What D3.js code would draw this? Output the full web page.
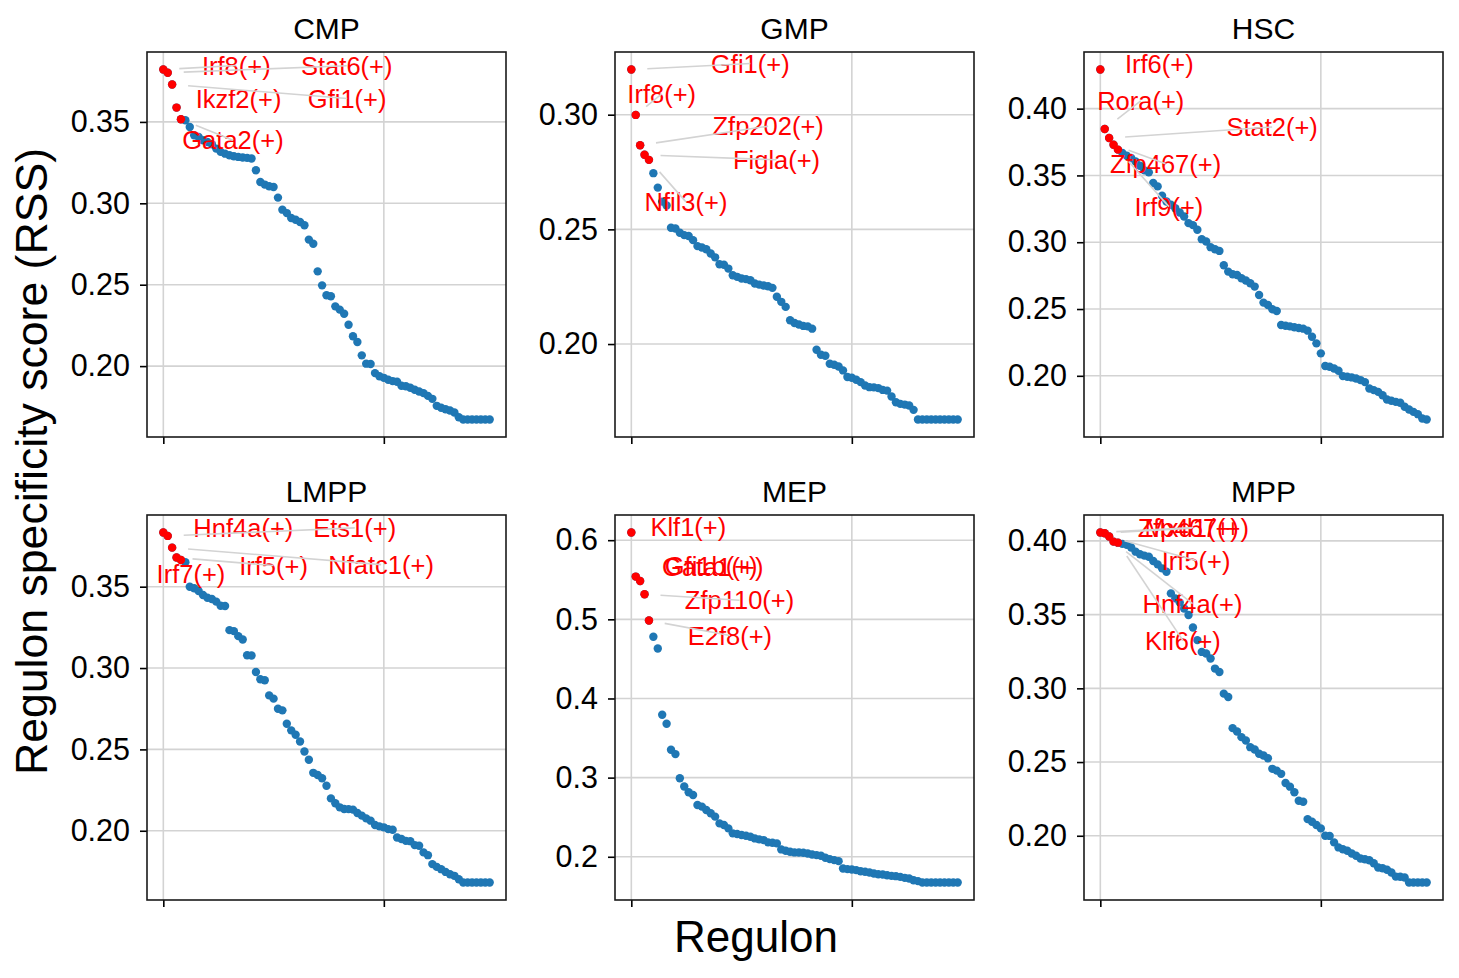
<!DOCTYPE html>
<html>
<head>
<meta charset="utf-8">
<script src="https://cdn.jsdelivr.net/npm/d3@7"></script>
<style>
body { margin: 0; background: #fff; }
svg { display: block; font-family: "Liberation Sans", Arial, sans-serif; }
</style>
</head>
<body>
<svg id="chart"></svg>
<script>
// cell types (one panel each)
var cellTypes = ["CMP", "GMP", "HSC", "LMPP", "MEP", "MPP"];

// RSS values, sorted from high to low, 75 regulons per cell type
var rssCMP = [
  0.3822, 0.3802, 0.3730, 0.3588, 0.3516, 0.3510, 0.3469, 0.3418, 0.3407, 0.3387,
  0.3377, 0.3363, 0.3336, 0.3316, 0.3305, 0.3295, 0.3289, 0.3285, 0.3281, 0.3279,
  0.3275, 0.3203, 0.3131, 0.3115, 0.3105, 0.3100, 0.3035, 0.2961, 0.2940, 0.2910,
  0.2899, 0.2885, 0.2865, 0.2777, 0.2752, 0.2582, 0.2496, 0.2435, 0.2429, 0.2367,
  0.2347, 0.2322, 0.2254, 0.2183, 0.2148, 0.2066, 0.2015, 0.2013, 0.1957, 0.1938,
  0.1928, 0.1916, 0.1908, 0.1904, 0.1879, 0.1876, 0.1867, 0.1855, 0.1844, 0.1834,
  0.1817, 0.1799, 0.1756, 0.1744, 0.1735, 0.1727, 0.1715, 0.1686, 0.1672, 0.1672,
  0.1672, 0.1672, 0.1672, 0.1672, 0.1672
];
var rssGMP = [
  0.3197, 0.2999, 0.2867, 0.2825, 0.2803, 0.2745, 0.2682, 0.2621, 0.2604, 0.2507,
  0.2504, 0.2485, 0.2475, 0.2471, 0.2453, 0.2427, 0.2421, 0.2413, 0.2395, 0.2378,
  0.2348, 0.2346, 0.2329, 0.2300, 0.2293, 0.2286, 0.2283, 0.2278, 0.2264, 0.2259,
  0.2255, 0.2252, 0.2245, 0.2206, 0.2184, 0.2162, 0.2104, 0.2092, 0.2085, 0.2079,
  0.2077, 0.2067, 0.1975, 0.1953, 0.1949, 0.1914, 0.1910, 0.1902, 0.1885, 0.1856,
  0.1853, 0.1844, 0.1834, 0.1819, 0.1812, 0.1811, 0.1808, 0.1800, 0.1797, 0.1771,
  0.1746, 0.1739, 0.1736, 0.1732, 0.1713, 0.1671, 0.1671, 0.1671, 0.1671, 0.1671,
  0.1671, 0.1671, 0.1671, 0.1671, 0.1671
];
var rssHSC = [
  0.4293, 0.3848, 0.3780, 0.3730, 0.3693, 0.3668, 0.3648, 0.3630, 0.3605, 0.3573,
  0.3538, 0.3523, 0.3443, 0.3418, 0.3348, 0.3305, 0.3280, 0.3255, 0.3223, 0.3193,
  0.3143, 0.3128, 0.3093, 0.3023, 0.3005, 0.2963, 0.2948, 0.2935, 0.2828, 0.2780,
  0.2760, 0.2755, 0.2730, 0.2713, 0.2693, 0.2668, 0.2605, 0.2548, 0.2530, 0.2498,
  0.2485, 0.2380, 0.2375, 0.2370, 0.2363, 0.2358, 0.2353, 0.2338, 0.2293, 0.2243,
  0.2168, 0.2073, 0.2068, 0.2055, 0.2038, 0.1998, 0.1993, 0.1988, 0.1980, 0.1968,
  0.1953, 0.1905, 0.1893, 0.1880, 0.1855, 0.1823, 0.1813, 0.1805, 0.1798, 0.1768,
  0.1748, 0.1730, 0.1713, 0.1680, 0.1673
];
var rssLMPP = [
  0.3833, 0.3812, 0.3740, 0.3679, 0.3664, 0.3650, 0.3500, 0.3490, 0.3473, 0.3449,
  0.3432, 0.3424, 0.3408, 0.3383, 0.3381, 0.3233, 0.3227, 0.3196, 0.3175, 0.3079,
  0.3077, 0.2976, 0.2931, 0.2925, 0.2832, 0.2812, 0.2750, 0.2740, 0.2658, 0.2617,
  0.2590, 0.2549, 0.2487, 0.2436, 0.2356, 0.2343, 0.2323, 0.2277, 0.2199, 0.2169,
  0.2144, 0.2134, 0.2133, 0.2130, 0.2109, 0.2093, 0.2076, 0.2062, 0.2035, 0.2027,
  0.2021, 0.2010, 0.2006, 0.1959, 0.1949, 0.1938, 0.1936, 0.1912, 0.1908, 0.1867,
  0.1850, 0.1795, 0.1778, 0.1764, 0.1747, 0.1733, 0.1723, 0.1702, 0.1682, 0.1682,
  0.1682, 0.1682, 0.1682, 0.1682, 0.1682
];
var rssMEP = [
  0.6097, 0.5540, 0.5485, 0.5316, 0.4986, 0.4780, 0.4631, 0.3795, 0.3681, 0.3352,
  0.3297, 0.2993, 0.2887, 0.2815, 0.2781, 0.2655, 0.2634, 0.2591, 0.2549, 0.2507,
  0.2422, 0.2401, 0.2359, 0.2296, 0.2287, 0.2275, 0.2266, 0.2253, 0.2232, 0.2220,
  0.2211, 0.2182, 0.2177, 0.2169, 0.2093, 0.2076, 0.2063, 0.2055, 0.2054, 0.2050,
  0.2042, 0.2029, 0.2021, 0.2013, 0.1987, 0.1970, 0.1958, 0.1945, 0.1852, 0.1844,
  0.1840, 0.1831, 0.1818, 0.1810, 0.1801, 0.1788, 0.1780, 0.1776, 0.1767, 0.1759,
  0.1755, 0.1746, 0.1734, 0.1725, 0.1704, 0.1692, 0.1675, 0.1675, 0.1675, 0.1675,
  0.1675, 0.1675, 0.1675, 0.1675, 0.1675
];
var rssMPP = [
  0.4057, 0.4052, 0.4030, 0.3995, 0.3988, 0.3980, 0.3973, 0.3955, 0.3927, 0.3909,
  0.3900, 0.3893, 0.3864, 0.3841, 0.3814, 0.3791, 0.3644, 0.3610, 0.3583, 0.3542,
  0.3497, 0.3413, 0.3327, 0.3247, 0.3236, 0.3202, 0.3134, 0.3111, 0.2964, 0.2941,
  0.2730, 0.2707, 0.2669, 0.2646, 0.2601, 0.2585, 0.2556, 0.2544, 0.2526, 0.2454,
  0.2442, 0.2420, 0.2358, 0.2333, 0.2295, 0.2238, 0.2231, 0.2113, 0.2095, 0.2073,
  0.2050, 0.2000, 0.1999, 0.1955, 0.1921, 0.1909, 0.1898, 0.1880, 0.1864, 0.1846,
  0.1841, 0.1834, 0.1814, 0.1785, 0.1780, 0.1769, 0.1751, 0.1723, 0.1722, 0.1717,
  0.1683, 0.1683, 0.1683, 0.1683, 0.1683
];

// names of the top 5 regulons (in rank order) per cell type
var topCMP  = ["Irf8(+)", "Stat6(+)", "Gfi1(+)", "Ikzf2(+)", "Gata2(+)"];
var topGMP  = ["Gfi1(+)", "Irf8(+)", "Zfp202(+)", "Figla(+)", "Nfil3(+)"];
var topHSC  = ["Irf6(+)", "Rora(+)", "Stat2(+)", "Zfp467(+)", "Irf9(+)"];
var topLMPP = ["Hnf4a(+)", "Ets1(+)", "Nfatc1(+)", "Irf5(+)", "Irf7(+)"];
var topMEP  = ["Klf1(+)", "Gata1(+)", "Gfi1b(+)", "Zfp110(+)", "E2f8(+)"];
var topMPP  = ["Zfp467(+)", "Mxd1(+)", "Irf5(+)", "Hnf4a(+)", "Klf6(+)"];

// tick labels
var xTicks = [0, 50];
var yTicksCMP  = ["0.20", "0.25", "0.30", "0.35"];
var yTicksGMP  = ["0.20", "0.25", "0.30"];
var yTicksHSC  = ["0.20", "0.25", "0.30", "0.35", "0.40"];
var yTicksLMPP = ["0.20", "0.25", "0.30", "0.35"];
var yTicksMEP  = ["0.2", "0.3", "0.4", "0.5", "0.6"];
var yTicksMPP  = ["0.20", "0.25", "0.30", "0.35", "0.40"];

// label placement: pixel offset of label centre from its point, and whether a connector is drawn
var labelLayout = [
  [[73, -4, 1], [179, -7, 1], [175, 14, 1], [62, -9, 0], [52, 21, 1]],
  [[119, -6, 1], [26, -21, 1], [128, -19, 1], [132, 5, 1], [37, 42, 1]],
  [[59, -6, 0], [36, -28, 1], [163, -11, 1], [52, 19, 1], [51, 57, 1]],
  [[80, -5, 0], [187, -8, 1], [209, 17, 1], [97, 8, 1], [10, 14, 0]],
  [[57, -6, 0], [77, -10, 0], [71, -15, 0], [95, 6, 1], [81, 15, 1]],
  [[93, -5, 1], [87, -5, 1], [87, 24, 1], [79, 62, 1], [65, 98, 1]]
];

var values = [rssCMP, rssGMP, rssHSC, rssLMPP, rssMEP, rssMPP];
var tops = [topCMP, topGMP, topHSC, topLMPP, topMEP, topMPP];
var yTicks = [yTicksCMP, yTicksGMP, yTicksHSC, yTicksLMPP, yTicksMEP, yTicksMPP];

var W = 1459, H = 978;
var colLeft = [147, 615, 1084], rowTop = [52, 515];
var pw = 359, ph = 385;
var blue = "#1f77b4", red = "#ff0000", grey = "#d3d3d3";

var svg = d3.select("#chart").attr("width", W).attr("height", H);

cellTypes.forEach(function(name, k) {
  var left = colLeft[k % 3], top = rowTop[Math.floor(k / 3)];
  var vals = values[k];
  var n = vals.length;
  var ticks = yTicks[k];

  // matplotlib-style 5% margins
  var x = d3.scaleLinear().domain([-0.05 * (n - 1), 1.05 * (n - 1)]).range([left, left + pw]);
  var ext = d3.extent(vals), pad = (ext[1] - ext[0]) * 0.05;
  var y = d3.scaleLinear().domain([ext[0] - pad, ext[1] + pad]).range([top + ph, top]);

  var g = svg.append("g");

  // grid
  g.append("g").selectAll("line").data(xTicks).enter().append("line")
    .attr("x1", d => x(d)).attr("x2", d => x(d))
    .attr("y1", top).attr("y2", top + ph)
    .attr("stroke", grey).attr("stroke-width", 1.6);
  g.append("g").selectAll("line").data(ticks).enter().append("line")
    .attr("x1", left).attr("x2", left + pw)
    .attr("y1", d => y(+d)).attr("y2", d => y(+d))
    .attr("stroke", grey).attr("stroke-width", 1.6);

  // axes
  var xAxis = d3.axisBottom(x).tickValues(xTicks).tickFormat("").tickSize(7).tickSizeOuter(0);
  var yAxis = d3.axisLeft(y).tickValues(ticks.map(Number))
    .tickFormat((d, i) => ticks[i]).tickSize(7).tickSizeOuter(0).tickPadding(10);

  var gx = g.append("g").attr("transform", "translate(0," + (top + ph) + ")").call(xAxis);
  var gy = g.append("g").attr("transform", "translate(" + left + ",0)").call(yAxis);
  [gx, gy].forEach(function(a) {
    a.select(".domain").remove();
    a.selectAll(".tick line").attr("stroke", "#000").attr("stroke-width", 1.6);
  });
  gy.selectAll(".tick text")
    .attr("font-size", 30.5).attr("fill", "#000")
    .attr("font-family", "'Liberation Sans', Arial, sans-serif");

  // points
  g.append("g").selectAll("circle").data(vals).enter().append("circle")
    .attr("cx", (d, i) => x(i)).attr("cy", d => y(d)).attr("r", 4.2)
    .attr("fill", blue);
  g.append("g").selectAll("circle").data(vals.slice(0, tops[k].length)).enter().append("circle")
    .attr("cx", (d, i) => x(i)).attr("cy", d => y(d)).attr("r", 4.2)
    .attr("fill", red);

  // labels
  var lab = tops[k].map(function(t, i) {
    var px = x(i), py = y(vals[i]);
    var o = labelLayout[k][i];
    return { text: t, px: px, py: py, tx: px + o[0], ty: py + o[1], line: o[2] };
  });
  g.append("g").selectAll("text").data(lab).enter().append("text")
    .attr("x", d => d.tx).attr("y", d => d.ty).attr("dy", "0.36em")
    .attr("text-anchor", "middle").attr("font-size", 25.5).attr("fill", red)
    .text(d => d.text);
  g.append("g").selectAll("line").data(lab.filter(d => d.line)).enter().append("line")
    .attr("x1", function(d) {
      var dx = d.tx - d.px, dy = d.ty - d.py, L = Math.sqrt(dx * dx + dy * dy);
      return d.px + dx / L * Math.min(16, L * 0.4);
    })
    .attr("y1", function(d) {
      var dx = d.tx - d.px, dy = d.ty - d.py, L = Math.sqrt(dx * dx + dy * dy);
      return d.py + dy / L * Math.min(16, L * 0.4);
    })
    .attr("x2", d => d.tx).attr("y2", d => d.ty)
    .attr("stroke", grey).attr("stroke-width", 1.6);

  // frame
  g.append("rect").attr("x", left).attr("y", top).attr("width", pw).attr("height", ph)
    .attr("fill", "none").attr("stroke", "#1a1a1a").attr("stroke-width", 1.6);

  // title
  g.append("text").attr("x", left + pw / 2).attr("y", top - 13)
    .attr("text-anchor", "middle").attr("font-size", 30).attr("fill", "#000")
    .text(name);
});

// shared axis labels
svg.append("text").attr("x", 756).attr("y", 952)
  .attr("text-anchor", "middle").attr("font-size", 44).attr("fill", "#000")
  .text("Regulon");
svg.append("text").attr("transform", "translate(47,461.5) rotate(-90)")
  .attr("text-anchor", "middle").attr("font-size", 44.6).attr("fill", "#000")
  .text("Regulon specificity score (RSS)");
</script>
</body>
</html>
